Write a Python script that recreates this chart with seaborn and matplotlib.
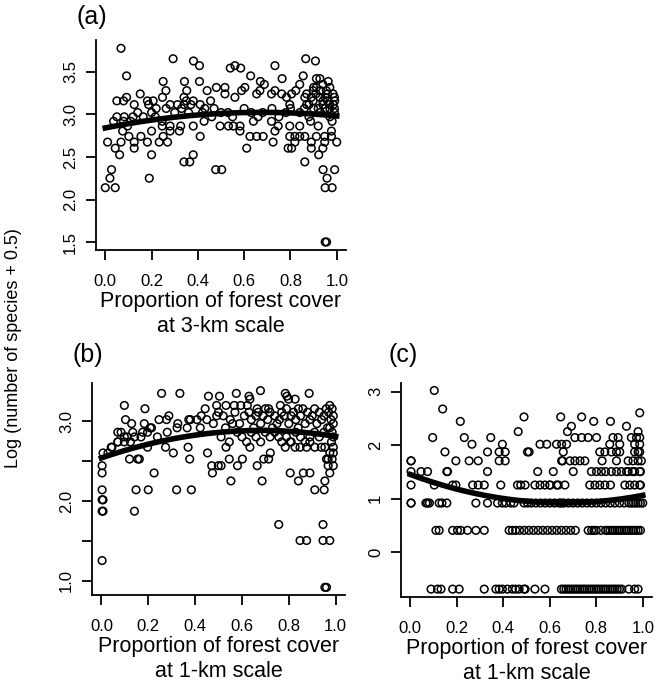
import numpy as np
import matplotlib
matplotlib.use("Agg")
import matplotlib.pyplot as plt
import seaborn as sns

# Panel (a): forest cover at 3-km scale vs number of species (counts)
a_x = [0.068, 0.293, 0.381, 0.407, 0.092, 0.250, 0.342, 0.407, 0.262, 0.352,
       0.480, 0.440, 0.151, 0.092, 0.050, 0.079, 0.125, 0.182, 0.207, 0.187,
       0.247, 0.340, 0.350, 0.380, 0.312, 0.280, 0.263, 0.340, 0.370, 0.410,
       0.430, 0.455, 0.470, 0.082, 0.120, 0.164, 0.036, 0.079, 0.110, 0.216,
       0.246, 0.096, 0.246, 0.326, 0.280, 0.075, 0.154, 0.200, 0.250, 0.280,
       0.320, 0.380, 0.427, 0.102, 0.125, 0.182, 0.233, 0.269, 0.010, 0.068,
       0.043, 0.125, 0.062, 0.200, 0.380, 0.410, 0.340, 0.365, 0.027, 0.020,
       0.000, 0.043, 0.190, 0.477, 0.503, 0.050, 0.140, 0.200, 0.300, 0.360,
       0.420, 0.460, 0.500, 0.220, 0.330,
       0.866, 0.908, 0.560, 0.585, 0.540, 0.733, 0.628, 0.670, 0.687, 0.764,
       0.855, 0.840, 0.823, 0.805, 0.912, 0.927, 0.963, 0.912, 0.955, 0.984,
       0.927, 0.898, 0.517, 0.517, 0.560, 0.589, 0.603, 0.654, 0.668, 0.718,
       0.733, 0.762, 0.783, 0.797, 0.862, 0.870, 0.898, 0.941, 0.970, 0.991,
       0.530, 0.600, 0.630, 0.680, 0.720, 0.780, 0.800, 0.840, 0.880, 0.930,
       0.970, 0.990, 0.550, 0.660, 0.750, 0.860, 0.900, 0.950, 0.496, 0.532,
       0.553, 0.582, 0.640, 0.718, 0.747, 0.797, 0.840, 0.887, 0.920, 0.980,
       0.625, 0.654, 0.682, 0.733, 0.797, 0.819, 0.840, 0.862, 0.912, 0.948,
       0.977, 0.582, 0.725, 0.819, 0.890, 0.948, 1.000, 0.977, 0.611, 0.790,
       0.805, 0.890, 0.940, 0.922, 0.862, 0.941, 0.991, 0.958, 0.950, 0.980,
       0.950, 0.956, 0.870, 0.890, 0.910, 0.930, 0.950, 0.960, 0.990, 0.940,
       0.960, 0.880, 0.920, 0.970, 0.985, 0.990, 0.900, 0.940, 0.970]
a_n = [43, 38, 37, 35, 31, 29, 29, 29, 26, 26,
       27, 26, 25, 24, 23, 23, 22, 23, 23, 22,
       24, 24, 23, 23, 22, 22, 21, 22, 22, 22,
       21, 23, 21, 19, 19, 19, 18, 18, 18, 19,
       18, 17, 17, 17, 17, 16, 15, 16, 15, 16,
       16, 17, 18, 15, 14, 14, 14, 14, 14, 14,
       13, 13, 12, 12, 12, 15, 11, 11, 10, 9,
       8, 8, 9, 10, 10, 19, 20, 20, 20, 20,
       20, 19, 20, 21, 21,
       38, 37, 35, 34, 34, 35, 31, 29, 28, 30,
       31, 28, 26, 25, 30, 30, 29, 27, 26, 25,
       24, 26, 27, 25, 24, 26, 27, 25, 26, 25,
       26, 25, 24, 22, 24, 22, 23, 23, 22, 23,
       20, 21, 20, 20, 21, 20, 21, 20, 19, 20,
       19, 20, 19, 19, 19, 21, 21, 21, 17, 17,
       17, 17, 18, 18, 17, 17, 17, 18, 17, 18,
       15, 15, 15, 16, 15, 15, 15, 15, 15, 15,
       16, 16, 14, 14, 14, 14, 14, 15, 13, 13,
       13, 13, 13, 12, 11, 10, 10, 9, 8, 8,
       4, 4, 25, 24, 25, 26, 24, 25, 24, 22,
       23, 22, 21, 21, 22, 21, 27, 28, 27]

# Panel (b): forest cover at 1-km scale vs number of species (counts)
b_x = [0.257, 0.335, 0.098, 0.186, 0.457, 0.492, 0.103, 0.129, 0.183, 0.214,
       0.246, 0.278, 0.288, 0.326, 0.373, 0.380, 0.408, 0.426, 0.443, 0.450,
       0.492, 0.070, 0.084, 0.110, 0.134, 0.176, 0.208, 0.169, 0.070, 0.098,
       0.124, 0.045, 0.007, 0.120, 0.155, 0.162, 0.197, 0.274, 0.307, 0.370,
       0.377, 0.453, 0.471, 0.499, 0.474, 0.225, 0.003, 0.003, 0.003, 0.148,
       0.200, 0.321, 0.384, 0.003, 0.007, 0.003, 0.007, 0.141, 0.003,
       0.028, 0.042, 0.070, 0.098, 0.141, 0.197, 0.239, 0.281, 0.323, 0.366,
       0.422, 0.478,
       0.576, 0.630, 0.634, 0.679, 0.785, 0.792, 0.887, 0.504, 0.532, 0.567,
       0.595, 0.623, 0.665, 0.714, 0.764, 0.799, 0.827, 0.841,
       0.50, 0.52, 0.55, 0.57, 0.59, 0.61, 0.63, 0.64, 0.65, 0.66,
       0.67, 0.68, 0.69, 0.70, 0.71, 0.72, 0.73, 0.74, 0.75, 0.76,
       0.77, 0.78, 0.79, 0.80, 0.81, 0.82, 0.83, 0.84, 0.85, 0.86,
       0.87, 0.88, 0.89, 0.90, 0.91, 0.92, 0.93, 0.94, 0.95, 0.96,
       0.97, 0.98, 0.99, 0.975, 0.985, 0.99, 0.965, 0.95, 0.93, 0.91,
       0.89, 0.87, 0.85, 0.83, 0.81, 0.79, 0.77, 0.757, 0.74, 0.72,
       0.70, 0.68, 0.66, 0.64, 0.62, 0.60, 0.58, 0.546, 0.532, 0.511,
       0.53, 0.56, 0.634, 0.785, 0.806, 0.827, 0.848, 0.876, 0.89, 0.911,
       0.939, 0.954, 0.982, 0.99, 0.975, 0.99, 0.961,
       0.511, 0.546, 0.581, 0.602, 0.665, 0.693, 0.714, 0.721, 0.553, 0.686,
       0.806, 0.841, 0.862, 0.890, 0.911, 0.951, 0.954, 0.975, 0.968, 0.968,
       0.757, 0.946, 0.848, 0.876, 0.946, 0.975, 0.954, 0.961,
       0.99, 0.985, 0.99, 0.985, 0.975]
b_n = [28, 28, 24, 23, 27, 24, 20, 19, 19, 18,
       20, 20, 21, 19, 20, 20, 20, 21, 23, 20,
       21, 17, 17, 16, 17, 17, 18, 16, 15, 15,
       15, 14, 13, 12, 12, 12, 14, 14, 13, 14,
       12, 13, 11, 11, 10, 10, 11, 10, 8, 8,
       8, 8, 8, 7, 7, 6, 6, 6, 3,
       13, 14, 15, 16, 16, 17, 16, 17, 18, 18,
       18, 19,
       28, 27, 26, 29, 28, 27, 28, 27, 24, 24,
       24, 24, 23, 23, 24, 26, 26, 23,
       22, 21, 20, 22, 19, 21, 22, 20, 18, 21,
       22, 19, 21, 23, 20, 22, 18, 21, 19, 20,
       22, 21, 23, 19, 21, 22, 20, 18, 21, 23,
       19, 22, 20, 21, 23, 19, 22, 20, 21, 23,
       22, 20, 21, 24, 23, 19, 18, 17, 16, 17,
       16, 15, 16, 17, 15, 16, 15, 16, 17, 16,
       17, 15, 16, 17, 15, 16, 17, 15, 14, 16,
       18, 19, 14, 14, 15, 14, 14, 14, 15, 14,
       14, 14, 15, 14, 13, 13, 12,
       11, 12, 11, 12, 11, 12, 12, 13, 9, 9,
       10, 9, 10, 10, 8, 8, 9, 10, 11, 12,
       5, 5, 4, 4, 4, 4, 2, 2,
       11, 12, 16, 17, 18]

# Panel (c): forest cover at 1-km scale vs number of species of the second group
c_x = [0.103, 0.139, 0.987, 0.489, 0.647, 0.737, 0.215, 0.789, 0.861, 0.930,
       0.693, 0.464, 0.676, 0.980,
       0.096, 0.232, 0.346, 0.708, 0.737, 0.765, 0.801, 0.872, 0.894, 0.951,
       0.973, 0.987,
       0.265, 0.396, 0.558, 0.587, 0.629, 0.651, 0.672, 0.858, 0.901, 0.965,
       0.987,
       0.149, 0.332, 0.382, 0.408, 0.504, 0.511, 0.658, 0.815, 0.837, 0.865,
       0.887, 0.901, 0.965, 0.987, 0.980,
       0.003, 0.003, 0.196, 0.253, 0.292, 0.382, 0.408, 0.651, 0.687, 0.708,
       0.751, 0.825, 0.887, 0.937, 0.958, 0.980, 0.994, 0.655, 0.730,
       0.003, 0.046, 0.074, 0.157, 0.160, 0.332, 0.548, 0.615, 0.701, 0.779,
       0.801, 0.822, 0.865, 0.887, 0.908, 0.937, 0.965, 0.987, 0.990, 0.840,
       0.930, 0.955,
       0.003, 0.103, 0.182, 0.196, 0.268, 0.292, 0.318, 0.389, 0.461, 0.475,
       0.494, 0.536, 0.558, 0.579, 0.601, 0.636, 0.665, 0.772, 0.794, 0.815,
       0.837, 0.861, 0.923, 0.944, 0.965, 0.987, 0.990, 0.630, 0.600,
       0.003, 0.003, 0.067, 0.074, 0.082, 0.124, 0.136, 0.157, 0.282, 0.332,
       0.375, 0.396, 0.411, 0.432, 0.446, 0.489, 0.504, 0.520, 0.540, 0.560,
       0.580, 0.600, 0.620, 0.640, 0.650, 0.660, 0.680, 0.700, 0.720, 0.740,
       0.760, 0.780, 0.800, 0.820, 0.840, 0.860, 0.880, 0.900, 0.920, 0.940,
       0.950, 0.960, 0.970, 0.980, 0.990, 1.000,
       0.110, 0.124, 0.182, 0.203, 0.217, 0.246, 0.282, 0.318, 0.425, 0.439,
       0.453, 0.470, 0.490, 0.510, 0.530, 0.550, 0.570, 0.590, 0.610, 0.630,
       0.650, 0.670, 0.690, 0.710, 0.765, 0.780, 0.790, 0.800, 0.820, 0.840,
       0.850, 0.860, 0.870, 0.880, 0.890, 0.900, 0.910, 0.920, 0.930, 0.940,
       0.950, 0.960, 0.970, 0.980, 0.990,
       0.089, 0.117, 0.132, 0.182, 0.210, 0.318, 0.368, 0.382, 0.396, 0.418,
       0.439, 0.453, 0.468, 0.489, 0.494, 0.536, 0.579, 0.650, 0.660, 0.670,
       0.680, 0.690, 0.700, 0.710, 0.720, 0.730, 0.740, 0.750, 0.760, 0.770,
       0.780, 0.790, 0.800, 0.810, 0.820, 0.830, 0.840, 0.850, 0.860, 0.870,
       0.880, 0.890, 0.900, 0.910, 0.940, 0.965, 0.980]
c_n = [20, 14, 13, 12, 12, 12, 11, 11, 11, 10,
       10, 9, 9, 9] + [8] * 12 + [7] * 11 + [6] * 15 + [5] * 19 + [4] * 22 \
    + [3] * 29 + [2] * 46 + [1] * 45 + [0] * 47

# fitted quadratic curves (intercept, linear, squared)
fit_a = [2.84, 0.54, -0.40]
fit_b = [2.54, 1.01, -0.74]
fit_c = [1.45, -1.61, 1.22]

plt.rcParams['font.family'] = ['Liberation Sans', 'DejaVu Sans']

fig = plt.figure(figsize=(6.64, 6.97), dpi=100)
ax_a = fig.add_axes([0.1446, 0.6413, 0.3765, 0.3013])
ax_b = fig.add_axes([0.1386, 0.1463, 0.3810, 0.3042])
ax_c = fig.add_axes([0.6040, 0.1435, 0.3780, 0.3070])


def panel(ax, x, n, fit, ylim, yticks, ylabels, xlabel):
    y = np.log(np.array(n) + 0.5)
    sns.regplot(x=np.array(x), y=y, ax=ax, fit_reg=False, color='black',
                scatter_kws=dict(s=30, facecolors='none', edgecolors='black',
                                 linewidths=1.1, alpha=1))
    xs = np.linspace(0, 1, 101)
    ys = fit[0] + fit[1] * xs + fit[2] * xs ** 2
    sns.lineplot(x=xs, y=ys, ax=ax, color='black', lw=4)
    ax.set_xlim(-0.04, 1.04)
    ax.set_ylim(*ylim)
    ax.set_xticks([0.0, 0.2, 0.4, 0.6, 0.8, 1.0])
    ax.set_xticklabels(['0.0', '0.2', '0.4', '0.6', '0.8', '1.0'])
    ax.set_yticks(yticks)
    ax.set_yticklabels(ylabels, rotation=90, va='center')
    ax.tick_params(direction='out', length=7, width=1.3, labelsize=12)
    ax.tick_params(axis='x', pad=10)
    ax.tick_params(axis='y', pad=6)
    for s in ['left', 'bottom']:
        ax.spines[s].set_linewidth(1.3)
    sns.despine(ax=ax)
    ax.set_xlabel(xlabel, fontsize=15.5, linespacing=1.2, labelpad=2)
    ax.set_ylabel('')


panel(ax_a, a_x, a_n, fit_a, (1.41, 3.87), [1.5, 2.0, 2.5, 3.0, 3.5],
      ['1.5', '2.0', '2.5', '3.0', '3.5'],
      'Proportion of forest cover\nat 3-km scale')
panel(ax_b, b_x, b_n, fit_b, (0.82, 3.48), [1.0, 1.5, 2.0, 2.5, 3.0],
      ['1.0', '', '2.0', '', '3.0'],
      'Proportion of forest cover\nat 1-km scale')
panel(ax_c, c_x, c_n, fit_c, (-0.84, 3.16), [0, 1, 2, 3],
      ['0', '1', '2', '3'],
      'Proportion of forest cover\nat 1-km scale')

fig.text(92 / 664, 1 - 17 / 697, '(a)', fontsize=18, ha='center', va='center')
fig.text(88 / 664, 1 - 355 / 697, '(b)', fontsize=18, ha='center', va='center')
fig.text(403 / 664, 1 - 355 / 697, '(c)', fontsize=18, ha='center', va='center')
fig.text(14 / 664, 1 - 348 / 697, 'Log (number of species + 0.5)', fontsize=13,
         rotation=90, ha='center', va='center')

fig.savefig('out.png', dpi=100)
